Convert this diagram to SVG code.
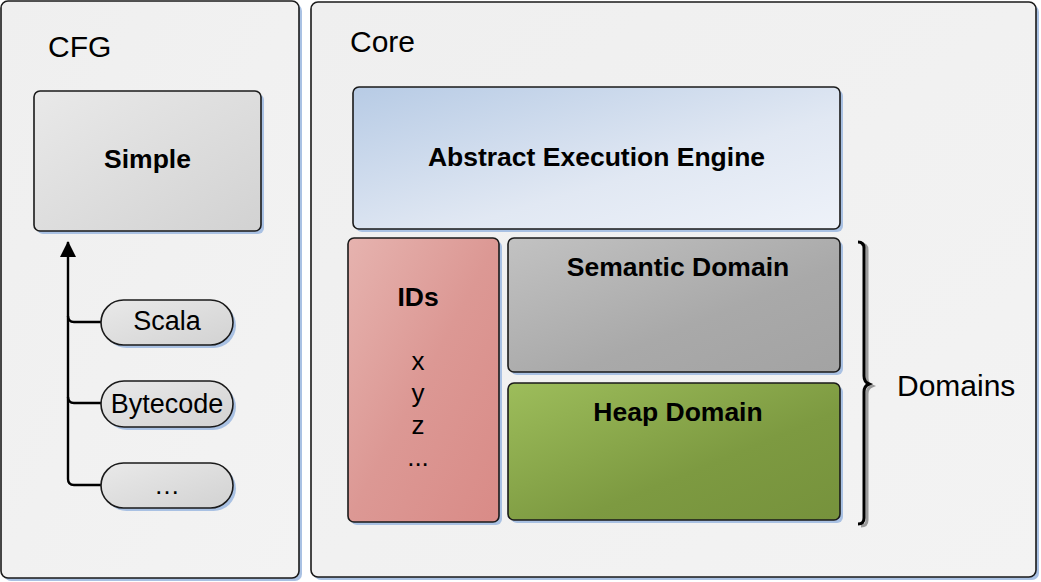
<svg xmlns="http://www.w3.org/2000/svg" width="1041" height="582" viewBox="0 0 1041 582">
  <style>
    .box { stroke: #1a1a1a; stroke-width: 1.6; }
    .shadow { fill: #a9c1e3; }
    .lbl { font-family: "Liberation Sans", Arial, sans-serif; fill: #000; }
    .bold { font-weight: bold; font-size: 26.5px; text-anchor: middle; }
    .reg { font-size: 30px; }
    .pill { font-size: 27px; text-anchor: middle; }
    .var { font-size: 26px; text-anchor: middle; }
    .conn { fill: none; stroke: #000; stroke-width: 2.4; }
  </style>
  <defs>
    <linearGradient id="gPanel" x1="0" y1="0" x2="1" y2="1">
      <stop offset="0" stop-color="#efefef"/>
      <stop offset="1" stop-color="#f3f3f3"/>
    </linearGradient>
    <linearGradient id="gGrey" x1="0" y1="0" x2="1" y2="1">
      <stop offset="0" stop-color="#e9e9e9"/>
      <stop offset="1" stop-color="#d2d2d2"/>
    </linearGradient>
    <linearGradient id="gBlue" x1="0" y1="0" x2="1" y2="1">
      <stop offset="0" stop-color="#b7cbe5"/>
      <stop offset="0.6" stop-color="#e1e8f3"/>
      <stop offset="1" stop-color="#eef2f9"/>
    </linearGradient>
    <linearGradient id="gRed" x1="0" y1="0" x2="1" y2="1">
      <stop offset="0" stop-color="#e6b3af"/>
      <stop offset="0.5" stop-color="#dc9894"/>
      <stop offset="1" stop-color="#d98b87"/>
    </linearGradient>
    <linearGradient id="gDark" x1="0" y1="0" x2="1" y2="1">
      <stop offset="0" stop-color="#c2c2c2"/>
      <stop offset="0.6" stop-color="#a9a9a9"/>
      <stop offset="1" stop-color="#a3a3a3"/>
    </linearGradient>
    <linearGradient id="gGreen" x1="0" y1="0" x2="1" y2="1">
      <stop offset="0" stop-color="#9dbd5b"/>
      <stop offset="0.6" stop-color="#7d9a41"/>
      <stop offset="1" stop-color="#76923c"/>
    </linearGradient>
    <marker id="arrow" viewBox="0 0 16 16" refX="15" refY="8" markerWidth="16" markerHeight="16" orient="auto" markerUnits="userSpaceOnUse">
      <path d="M0,0 L16,8 L0,16 z" fill="#000"/>
    </marker>
  </defs>

  <!-- outer panels -->
  <g id="cfg">
    <rect class="shadow" x="4" y="4" width="298" height="577" rx="7"/>
    <rect class="box" x="1" y="1" width="298" height="577" rx="7" fill="url(#gPanel)"/>
    <text class="lbl reg" x="48" y="57">CFG</text>
  </g>
  <g id="core">
    <rect class="shadow" x="314" y="5" width="725" height="575" rx="7"/>
    <rect class="box" x="311" y="2" width="725" height="575" rx="7" fill="url(#gPanel)"/>
    <text class="lbl reg" x="350" y="52">Core</text>
  </g>

  <!-- CFG contents -->
  <g id="simple">
    <rect class="shadow" x="37" y="94" width="227" height="140" rx="6"/>
    <rect class="box" x="34" y="91" width="227" height="140" rx="6" fill="url(#gGrey)"/>
    <text class="lbl bold" x="147.5" y="168">Simple</text>
  </g>

  <g id="connectors">
    <path class="conn" d="M101,322 H74 Q68,322 68,316"/>
    <path class="conn" d="M101,403 H74 Q68,403 68,397"/>
    <path class="conn" d="M101,485 H74 Q68,485 68,479 V242" marker-end="url(#arrow)"/>
  </g>

  <g id="scala">
    <rect class="shadow" x="104" y="303" width="132" height="45" rx="22.5"/>
    <rect class="box" x="101" y="300" width="132" height="45" rx="22.5" fill="url(#gGrey)"/>
    <text class="lbl pill" x="167" y="330">Scala</text>
  </g>
  <g id="bytecode">
    <rect class="shadow" x="104" y="384" width="132" height="46" rx="23"/>
    <rect class="box" x="101" y="381" width="132" height="46" rx="23" fill="url(#gGrey)"/>
    <text class="lbl pill" x="167" y="413">Bytecode</text>
  </g>
  <g id="more">
    <rect class="shadow" x="104" y="466" width="132" height="45" rx="22.5"/>
    <rect class="box" x="101" y="463" width="132" height="45" rx="22.5" fill="url(#gGrey)"/>
    <text class="lbl var" x="167" y="494">…</text>
  </g>

  <!-- Core contents -->
  <g id="engine">
    <rect class="shadow" x="356" y="90" width="487" height="142" rx="6"/>
    <rect class="box" x="353" y="87" width="487" height="142" rx="6" fill="url(#gBlue)"/>
    <text class="lbl bold" x="596.5" y="166">Abstract Execution Engine</text>
  </g>
  <g id="ids">
    <rect class="shadow" x="351" y="241" width="151" height="284" rx="6"/>
    <rect class="box" x="348" y="238" width="151" height="284" rx="6" fill="url(#gRed)"/>
    <text class="lbl bold" x="418" y="306">IDs</text>
    <text class="lbl var" x="418" y="370">x</text>
    <text class="lbl var" x="418" y="402">y</text>
    <text class="lbl var" x="418" y="434">z</text>
    <text class="lbl var" x="418" y="466">...</text>
  </g>
  <g id="semantic">
    <rect class="shadow" x="511" y="241" width="332" height="134" rx="6"/>
    <rect class="box" x="508" y="238" width="332" height="134" rx="6" fill="url(#gDark)"/>
    <text class="lbl bold" x="678" y="276">Semantic Domain</text>
  </g>
  <g id="heap">
    <rect class="shadow" x="511" y="386" width="332" height="137" rx="6"/>
    <rect class="box" x="508" y="383" width="332" height="137" rx="6" fill="url(#gGreen)"/>
    <text class="lbl bold" x="678" y="421">Heap Domain</text>
  </g>

  <g id="domains">
    <path d="M861,244 Q867,244 867,250 V378 Q867,384 872,386 Q867,388 867,394 V520 Q867,526 861,526" fill="none" stroke="#9a9a9a" stroke-width="3"/>
    <path d="M858,242 Q864,242 864,248 V376 Q864,382 869,384 Q864,386 864,392 V518 Q864,524 858,524" fill="none" stroke="#000" stroke-width="3"/>
    <text class="lbl reg" x="897" y="396">Domains</text>
  </g>
</svg>
